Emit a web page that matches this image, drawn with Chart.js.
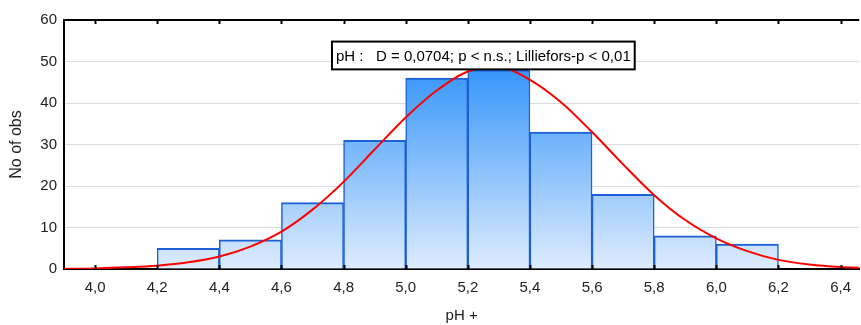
<!DOCTYPE html>
<html>
<head>
<meta charset="utf-8">
<script src="https://cdn.jsdelivr.net/npm/chart.js@4.4.1/dist/chart.umd.min.js"></script>
<style>
  html, body { margin: 0; padding: 0; background: #fff; }
  #wrap { width: 861px; height: 325px; }
</style>
</head>
<body>
<div id="wrap"><canvas id="histo"></canvas></div>
<script>
// class midpoints of pH (bin width 0.2) and counts
let _binCenters = [4.3, 4.5, 4.7, 4.9, 5.1, 5.3, 5.5, 5.7, 5.9, 6.1]
let _counts = [5, 7, 16, 31, 46, 48, 33, 18, 8, 6]

// expected normal curve, read at every 0.1 pH
let _curveX = [3.9, 4.0, 4.1, 4.2, 4.3, 4.4, 4.5, 4.6, 4.7, 4.8, 4.9, 5.0, 5.1, 5.2,
               5.3, 5.4, 5.5, 5.6, 5.7, 5.8, 5.9, 6.0, 6.1, 6.2, 6.3, 6.4, 6.5]
let _curveY = [0.05, 0.15, 0.4, 0.8, 1.6, 3.0, 5.4, 9.0, 14.3, 21.0, 28.8, 36.5, 43.0, 47.6,
               48.6, 45.6, 40.2, 33.0, 25.2, 17.8, 11.8, 7.4, 4.3, 2.2, 1.1, 0.5, 0.2]

let _xTicks = [4.0, 4.2, 4.4, 4.6, 4.8, 5.0, 5.2, 5.4, 5.6, 5.8, 6.0, 6.2, 6.4]
let _statText = 'pH :   D = 0,0704; p < n.s.; Lilliefors-p < 0,01'

let _font = 'Liberation Sans, Arial, sans-serif'

function $id(id) { return document.getElementById(id) }

function barGradient(context) {
    let chart = context.chart
    let area = chart.chartArea
    if (!area) return '#8cc4fb'
    let g = chart.ctx.createLinearGradient(0, area.top, 0, area.bottom)
    g.addColorStop(0, 'rgb(16,130,250)')
    g.addColorStop(0.2, 'rgb(55,150,250)')
    g.addColorStop(1, 'rgb(222,236,253)')
    return g
}

// frame, inward tick marks and the test statistic box
let frameAndBox = {
    id: 'frameAndBox',
    afterDatasetsDraw(chart) {
        let ctx = chart.ctx
        let a = chart.chartArea
        let xs = chart.scales.x
        let ys = chart.scales.y
        ctx.save()
        ctx.strokeStyle = '#000'
        ctx.lineWidth = 2
        ctx.beginPath()
        ctx.moveTo(a.left, a.top)
        ctx.lineTo(a.right, a.top)
        ctx.stroke()
        _xTicks.forEach(function(t) {
            let px = Math.round(xs.getPixelForValue(t)) + 0.5
            ctx.beginPath()
            ctx.moveTo(px, a.bottom - 4)
            ctx.lineTo(px, a.bottom + 1)
            ctx.moveTo(px, a.top)
            ctx.lineTo(px, a.top + 4)
            ctx.stroke()
        })

        ctx.font = '15px ' + _font
        let w = ctx.measureText(_statText).width + 8
        let cx = xs.getPixelForValue(5.25)
        let top = ys.getPixelForValue(54.8)
        let bottom = ys.getPixelForValue(48.1)
        let left = cx - w / 2
        ctx.fillStyle = '#fff'
        ctx.fillRect(left, top, w, bottom - top)
        ctx.lineWidth = 2
        ctx.strokeRect(left, top, w, bottom - top)
        ctx.fillStyle = '#000'
        ctx.textAlign = 'center'
        ctx.textBaseline = 'middle'
        ctx.fillText(_statText, cx, (top + bottom) / 2 + 1)
        ctx.restore()
    }
}

let histoCanvas = $id('histo').getContext('2d')

new Chart(histoCanvas, {
    data: {
        datasets: [
            {
                type: 'line',
                data: _curveX.map(function(x, i) { return { x: x, y: _curveY[i] } }),
                borderColor: '#ff0000',
                borderWidth: 2,
                pointRadius: 0,
                cubicInterpolationMode: 'monotone',
                order: 0
            },
            {
                type: 'bar',
                data: _binCenters.map(function(x, i) { return { x: x, y: _counts[i] } }),
                backgroundColor: barGradient,
                borderColor: '#1d5fd4',
                borderWidth: { top: 2, left: 1.5, right: 1.5, bottom: 0 },
                borderSkipped: false,
                barPercentage: 1,
                categoryPercentage: 1,
                order: 1
            }
        ]
    },
    options: {
        responsive: true,
        maintainAspectRatio: false,
        animation: false,
        events: [],
        layout: { padding: { top: 20, left: 0, right: 0, bottom: 0 } },
        plugins: {
            legend: { display: false },
            tooltip: { enabled: false }
        },
        scales: {
            x: {
                type: 'linear',
                offset: false,
                min: 3.9,
                max: 6.46,
                afterBuildTicks: function(scale) {
                    scale.ticks = _xTicks.map(function(v) { return { value: v } })
                },
                afterFit: function(scale) { scale.height = 56 },
                grid: { display: false, drawTicks: false },
                border: { display: true, color: '#000', width: 2 },
                ticks: {
                    padding: 10,
                    color: '#222',
                    font: { family: _font, size: 15 },
                    maxRotation: 0,
                    callback: function(v) { return Number(v).toFixed(1).replace('.', ',') }
                },
                title: {
                    display: true,
                    text: 'pH +',
                    color: '#222',
                    font: { family: _font, size: 15 },
                    padding: { top: 0, bottom: 0 }
                }
            },
            y: {
                min: 0,
                max: 60,
                afterFit: function(scale) { scale.width = 64 },
                grid: { color: '#dcdcdc', lineWidth: 1, drawTicks: false },
                border: { display: true, color: '#000', width: 2 },
                ticks: {
                    stepSize: 10,
                    padding: 7,
                    color: '#222',
                    font: { family: _font, size: 15 }
                },
                title: {
                    display: true,
                    text: 'No of obs',
                    color: '#222',
                    font: { family: _font, size: 16 },
                    padding: { top: 7, bottom: 0 }
                }
            }
        }
    },
    plugins: [frameAndBox]
})
</script>
</body>
</html>
